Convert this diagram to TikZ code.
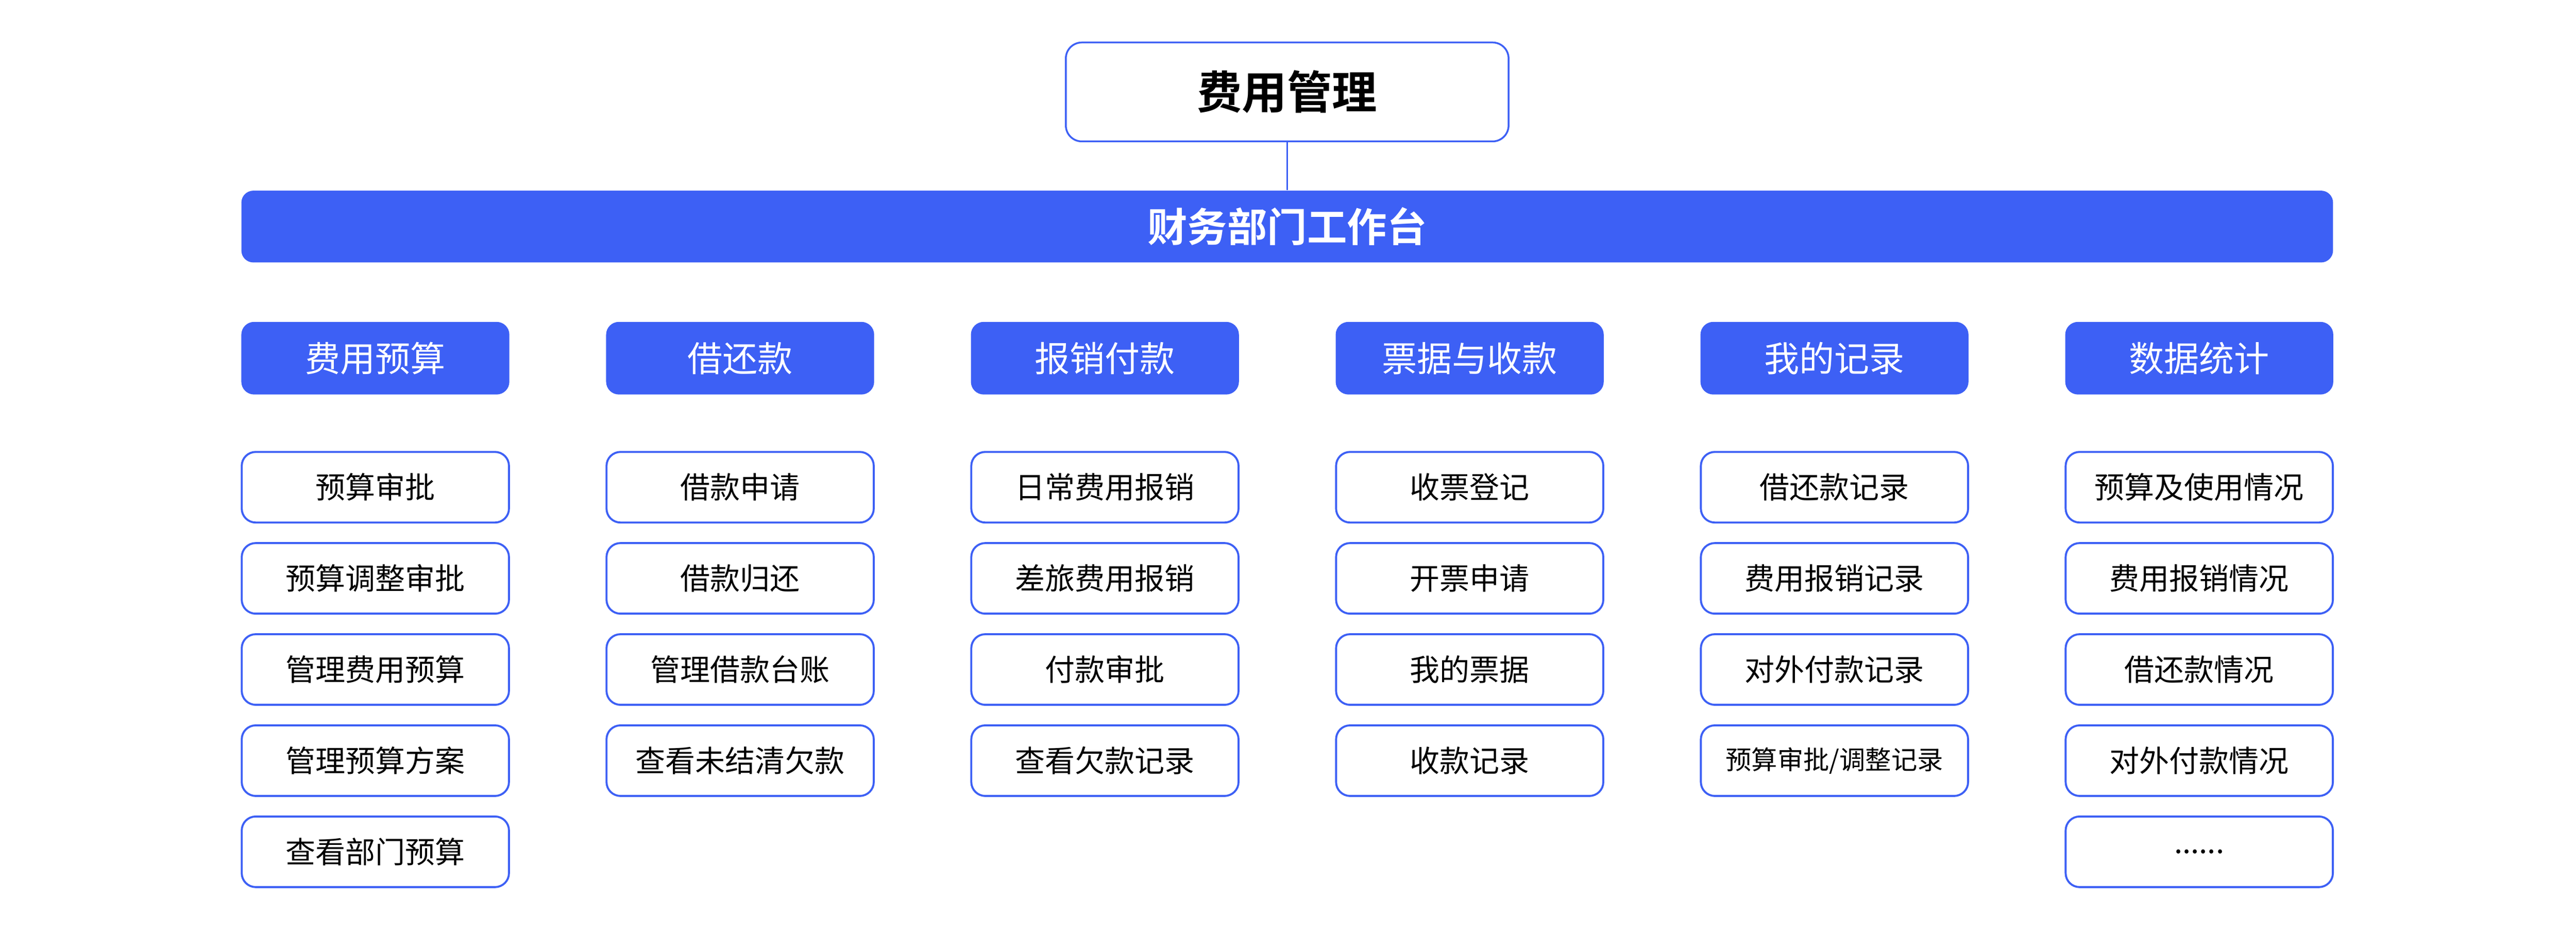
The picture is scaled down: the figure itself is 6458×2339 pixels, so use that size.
\documentclass[tikz,border=0pt]{standalone}
\usepackage{fontspec}
\setmainfont{Noto Sans CJK SC}[BoldFont={Noto Sans CJK SC Bold}]
\definecolor{mainblue}{RGB}{61,96,245}
\begin{document}
\begin{tikzpicture}[x=0.1pt,y=-0.1pt,
  titlebox/.style={draw=mainblue,line width=0.45pt,rounded corners=4pt,fill=white,inner sep=0pt,
    minimum width=111pt,minimum height=24.8pt,font=\fontsize{11.3}{13}\selectfont\bfseries},
  barbox/.style={fill=mainblue,rounded corners=3pt,inner sep=0pt,minimum width=524.4pt,minimum height=18pt,
    text=white,font=\fontsize{10}{12}\selectfont\bfseries},
  catbox/.style={fill=mainblue,rounded corners=3.2pt,inner sep=0pt,minimum width=67.2pt,minimum height=18.2pt,
    text=white,font=\fontsize{8.8}{10}\selectfont},
  itembox/.style={draw=mainblue,line width=0.5pt,rounded corners=3.5pt,inner sep=0pt,fill=white,
    minimum width=67pt,minimum height=17.7pt,font=\fontsize{7.5}{9}\selectfont},
  link/.style={draw=mainblue,line width=0.4pt}]
\useasboundingbox[fill=white] (0,0) rectangle (6458,2339);
\node[titlebox] (top) at (3227,230.5) {费用管理};
\node[barbox] (bar) at (3227,568) {财务部门工作台};
\draw[link] (top.south) -- (bar.north);
% categories
\foreach \lab [count=\i] in {费用预算,借还款,报销付款,票据与收款,我的记录,数据统计}
  \node[catbox] (c\i) at ({941+914.5*(\i-1)},898) {\lab};
% column 1
\foreach \lab [count=\j] in {预算审批,预算调整审批,管理费用预算,管理预算方案,查看部门预算}
  \node[itembox] (a\j) at (941,{1221.5+228.5*(\j-1)}) {\lab};
% column 2
\foreach \lab [count=\j] in {借款申请,借款归还,管理借款台账,查看未结清欠款}
  \node[itembox] (b\j) at (1855.5,{1221.5+228.5*(\j-1)}) {\lab};
% column 3
\foreach \lab [count=\j] in {日常费用报销,差旅费用报销,付款审批,查看欠款记录}
  \node[itembox] (d\j) at (2770,{1221.5+228.5*(\j-1)}) {\lab};
% column 4
\foreach \lab [count=\j] in {收票登记,开票申请,我的票据,收款记录}
  \node[itembox] (e\j) at (3684.5,{1221.5+228.5*(\j-1)}) {\lab};
% column 5
\foreach \lab [count=\j] in {借还款记录,费用报销记录,对外付款记录}
  \node[itembox] (f\j) at (4599,{1221.5+228.5*(\j-1)}) {\lab};
\node[itembox,font=\fontsize{6.5}{8}\selectfont] (f4) at (4599,1907) {预算审批/调整记录};
% column 6
\foreach \lab [count=\j] in {预算及使用情况,费用报销情况,借还款情况,对外付款情况}
  \node[itembox] (g\j) at (5513.5,{1221.5+228.5*(\j-1)}) {\lab};
\node[itembox] (g5) at (5513.5,2135.5) {......};
\end{tikzpicture}
\end{document}
